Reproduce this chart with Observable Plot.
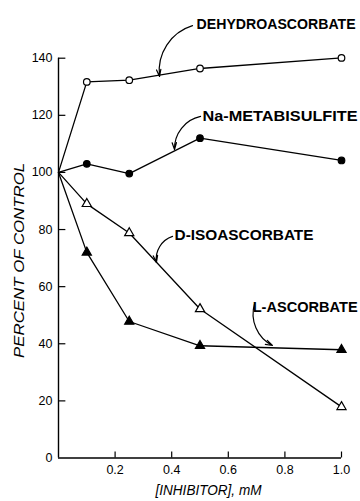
<!DOCTYPE html>
<html>
<head>
<meta charset="utf-8">
<script src="https://cdn.jsdelivr.net/npm/d3@7"></script>
<script src="https://cdn.jsdelivr.net/npm/@observablehq/plot@0.6"></script>
<style>
  html, body { margin: 0; padding: 0; background: #fff; }
</style>
</head>
<body>
<div id="chart"></div>
<script>
// ---- data ----
const conc = [0, 0.1, 0.25, 0.5, 1.0];
const seriesNames = ["DEHYDROASCORBATE", "Na-METABISULFITE", "D-ISOASCORBATE", "L-ASCORBATE"];
const dehydroascorbate = [100, 131.7, 132.3, 136.4, 140.1];
const metabisulfite = [100, 103.0, 99.6, 112.0, 104.2];
const isoascorbate = [100, 89.0, 78.8, 52.2, 17.9];
const lAscorbate = [100, 72.0, 47.8, 39.3, 37.9];
const yTicks = [0, 20, 40, 60, 80, 100, 120, 140];
const xTicks = [0.2, 0.4, 0.6, 0.8, 1.0];
const xTickLabels = ["0.2", "0.4", "0.6", "0.8", "1.0"];
const yTitle = "PERCENT OF CONTROL";
const xTitle = "[INHIBITOR], mM";

// annotation placement (data coords) and rendered text widths
const labels = [
  {text: seriesNames[0], x: 0.488, y: 151.8, w: 159},
  {text: seriesNames[1], x: 0.509, y: 119.6, w: 155},
  {text: seriesNames[2], x: 0.410, y: 77.9, w: 139},
  {text: seriesNames[3], x: 0.686, y: 52.7, w: 105}
];
const arrows = [
  {x1: 0.4735, y1: 151.4, x2: 0.357, y2: 133.6},
  {x1: 0.502, y1: 119.6, x2: 0.410, y2: 108.0},
  {x1: 0.403, y1: 77.6, x2: 0.346, y2: 68.5},
  {x1: 0.693, y1: 54.1, x2: 0.756, y2: 39.4}
];

const seriesValues = [dehydroascorbate, metabisulfite, isoascorbate, lAscorbate];
const styles = [
  {symbol: "circle", fill: "white"},
  {symbol: "circle", fill: "black"},
  {symbol: "triangle", fill: "white"},
  {symbol: "triangle", fill: "black"}
];
const rows = [];
seriesValues.forEach((vals, si) => {
  vals.forEach((v, i) => rows.push({series: seriesNames[si], si, i, x: conc[i], y: v}));
});
const markerRows = rows.filter(d => d.i > 0);
const yTickRows = yTicks.map(v => ({v}));
const xTickRows = xTicks.map((v, i) => ({v, label: xTickLabels[i]}));

const annFont = "'Liberation Sans', Arial, sans-serif";
const tickFont = "'Liberation Sans', 'DejaVu Sans', sans-serif";

const chart = Plot.plot({
  width: 360,
  height: 501,
  marginLeft: 58,
  marginRight: 19,
  marginTop: 57.7,
  marginBottom: 43.5,
  x: {type: "linear", domain: [0, 1], axis: null},
  y: {type: "linear", domain: [0, 140], axis: null},
  style: {background: "white", color: "black"},
  marks: [
    // axes lines
    Plot.ruleX([0], {x: d => d, y1: 0, y2: 140, stroke: "black", strokeWidth: 1.4}),
    Plot.ruleY([0], {y: d => d, x1: 0, x2: 1, stroke: "black", strokeWidth: 1.4}),
    // inward ticks
    Plot.ruleY(yTickRows.filter(d => d.v > 0), {y: "v", x1: 0, x2: 0.026, stroke: "black", strokeWidth: 1.2}),
    Plot.ruleX(xTickRows, {x: "v", y1: 0, y2: 2.1, stroke: "black", strokeWidth: 1.2}),
    // tick labels
    Plot.text(yTickRows, {x: 0, y: "v", text: d => String(d.v), dx: -6, textAnchor: "end", fontSize: 12.5, fontFamily: tickFont}),
    Plot.text(xTickRows, {x: "v", y: 0, text: "label", dy: 12, fontSize: 12.5, fontFamily: tickFont}),
    // lines
    Plot.line(rows, {x: "x", y: "y", z: "series", stroke: "black", strokeWidth: 1.3}),
    // markers
    ...styles.map((s, si) => Plot.dot(markerRows.filter(d => d.si === si), {
      x: "x", y: "y", symbol: s.symbol, r: s.symbol === "circle" ? 3.3 : 3.4,
      fill: s.fill, stroke: "black", strokeWidth: 1.2
    })),
    // annotations
    Plot.arrow(arrows, {x1: "x1", y1: "y1", x2: "x2", y2: "y2", bend: -40, stroke: "black", strokeWidth: 1.2, headLength: 9, headAngle: 35}),
    Plot.text(labels, {x: "x", y: "y", text: "text", textAnchor: "start", fontSize: 14.2, fontWeight: "bold", fontFamily: annFont}),
    // axis titles
    Plot.text([yTitle], {x: () => -0.138, y: () => 69.2, text: d => d, rotate: -90, fontSize: 15.5, fontStyle: "italic", fontFamily: tickFont}),
    Plot.text([xTitle], {x: () => 0.53, y: () => -11.5, text: d => d, fontSize: 14.5, fontStyle: "italic", fontFamily: tickFont})
  ]
});

// fit label widths to the reference lettering
const widths = new Map(labels.map(d => [d.text, d.w]));
widths.set(yTitle, 195);
widths.set(xTitle, 106);
d3.select(chart).selectAll("text").each(function() {
  const w = widths.get(this.textContent);
  if (w) {
    this.setAttribute("textLength", w);
    this.setAttribute("lengthAdjust", "spacingAndGlyphs");
  }
});
document.getElementById("chart").appendChild(chart);
</script>
</body>
</html>
